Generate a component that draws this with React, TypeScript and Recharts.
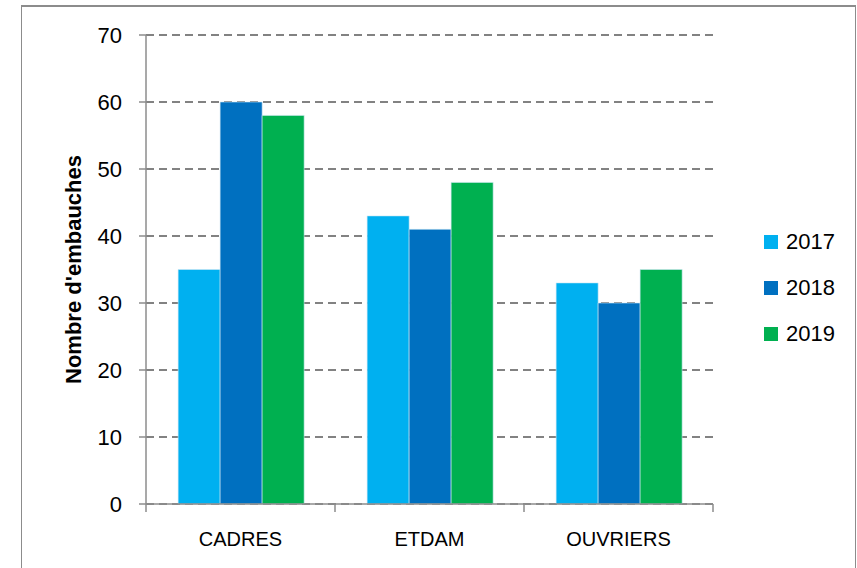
import React from 'react';
import { BarChart, Bar, XAxis, YAxis, CartesianGrid, Legend } from 'recharts';

const categories = ['CADRES', 'ETDAM', 'OUVRIERS'];
const values2017 = [35, 43, 33];
const values2018 = [60, 41, 30];
const values2019 = [58, 48, 35];
const yTicks = [0, 10, 20, 30, 40, 50, 60, 70];

const seriesNames = ['2017', '2018', '2019'];
const seriesColors = ['#00B0F0', '#0070C0', '#00B050'];

const data = categories.map((c, i) => ({
  name: c,
  '2017': values2017[i],
  '2018': values2018[i],
  '2019': values2019[i],
}));

const FONT = '"Liberation Sans", Arial, sans-serif';
const CHART_W = 857;
const CHART_H = 568;
const MARGIN = { top: 35, right: 144, bottom: 14, left: 0 };
const Y_AXIS_W = 146;
const PLOT_W = CHART_W - MARGIN.right - MARGIN.left - Y_AXIS_W;
const X_TICK_MARGIN = 28;
const AXIS_COLOR = '#8c8c8c';

const CategoryTick = (props: any) => {
  const { x, y, payload, index } = props;
  const band = PLOT_W / categories.length;
  const axisY = y - X_TICK_MARGIN;
  const leftX = x - band / 2;
  const rightX = x + band / 2;
  return (
    <g>
      <line x1={leftX} y1={axisY} x2={leftX} y2={axisY + 8} stroke={AXIS_COLOR} strokeWidth={1.5} />
      {index === categories.length - 1 && (
        <line x1={rightX} y1={axisY} x2={rightX} y2={axisY + 8} stroke={AXIS_COLOR} strokeWidth={1.5} />
      )}
      <text x={x} y={y} dy="0.71em" textAnchor="middle" fill="#000" fontSize={20} fontFamily={FONT}>
        {payload.value}
      </text>
    </g>
  );
};

const LegendContent = (props: any) => {
  const payload = props.payload || [];
  return (
    <div style={{ fontFamily: FONT, fontSize: 22, color: '#000' }}>
      {payload.map((p: any) => (
        <div key={p.value} style={{ display: 'flex', alignItems: 'center', height: 46 }}>
          <span style={{ display: 'inline-block', width: 14, height: 14, background: p.color, marginRight: 8 }} />
          <span>{p.value}</span>
        </div>
      ))}
    </div>
  );
};

export default function App() {
  return (
    <div style={{ position: 'absolute', left: 0, top: 0, width: CHART_W, height: CHART_H, background: '#fff', overflow: 'hidden' }}>
      <div
        style={{
          position: 'absolute',
          left: 21,
          top: 5,
          width: 835,
          height: 600,
          border: '1px solid #8c8c8c',
          borderTopWidth: 2,
          boxSizing: 'border-box',
        }}
      />
      <div style={{ position: 'absolute', left: 0, top: 0 }}>
        <BarChart
          width={CHART_W}
          height={CHART_H}
          data={data}
          margin={MARGIN}
          barGap={0}
          barCategoryGap="17%"
        >
          <CartesianGrid
            vertical={false}
            stroke="#595959"
            strokeDasharray="8 5"
            strokeWidth={1.5}
          />
          <XAxis
            dataKey="name"
            height={50}
            axisLine={{ stroke: AXIS_COLOR, strokeWidth: 1.5 }}
            tickLine={false}
            tickSize={0}
            tickMargin={X_TICK_MARGIN}
            tick={<CategoryTick />}
            interval={0}
          />
          <YAxis
            width={Y_AXIS_W}
            domain={[0, 70]}
            ticks={yTicks}
            interval={0}
            tickSize={7}
            tickMargin={17}
            stroke={AXIS_COLOR}
            strokeWidth={1.5}
            tick={{ fill: '#000', fontSize: 22, fontFamily: FONT }}
            label={{
              value: "Nombre d'embauches",
              angle: -90,
              position: 'center',
              style: { fontFamily: FONT, fontSize: 22, fontWeight: 'bold', fill: '#000', textAnchor: 'middle' },
            }}
          />
          <Legend
            layout="vertical"
            align="center"
            verticalAlign="middle"
            content={<LegendContent />}
            wrapperStyle={{ position: 'absolute', left: 764, top: 219, width: 90, height: 140 }}
          />
          {seriesNames.map((s, i) => (
            <Bar
              key={s}
              dataKey={s}
              name={s}
              fill={seriesColors[i]}
              stroke="#cfe8f5"
              strokeWidth={0.6}
              isAnimationActive={false}
            />
          ))}
        </BarChart>
      </div>
    </div>
  );
}
